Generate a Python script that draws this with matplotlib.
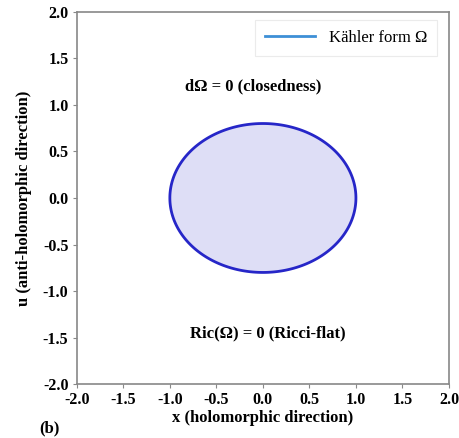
import numpy as np
import matplotlib.pyplot as plt
from matplotlib.lines import Line2D

# ellipse parameters (Kähler form boundary)
center = (0.0, 0.0)
semi_axes = (1.0, 0.8)
x_ticks = [-2.0, -1.5, -1.0, -0.5, 0.0, 0.5, 1.0, 1.5, 2.0]
y_ticks = [-2.0, -1.5, -1.0, -0.5, 0.0, 0.5, 1.0, 1.5, 2.0]
annotations = [("dΩ = 0 (closedness)", -0.1, 1.2),
               ("Ric(Ω) = 0 (Ricci-flat)", 0.05, -1.45)]

plt.rcParams['font.family'] = ['Liberation Serif', 'DejaVu Serif']

fig = plt.figure(figsize=(4.6, 4.38), dpi=100)
ax = fig.add_axes([0.167, 0.123, 0.809, 0.850])

t = np.linspace(0, 2 * np.pi, 400)
ex = center[0] + semi_axes[0] * np.cos(t)
ey = center[1] + semi_axes[1] * np.sin(t)
ax.fill(ex, ey, color='#dedef6', zorder=1)
ax.fill(ex, ey, facecolor='none', edgecolor='#2626c8', lw=2, zorder=2)

for txt, tx, ty in annotations:
    ax.text(tx, ty, txt, ha='center', va='center', fontsize=12, fontweight='bold')

handle = Line2D([], [], color='#3d8fd6', lw=2)
leg = ax.legend([handle], ['Kähler form Ω'], loc='upper right', fontsize=12,
                frameon=True, fancybox=False, borderpad=0.6, handlelength=3.0,
                bbox_to_anchor=(0.99, 1.0))
leg.get_frame().set_edgecolor('#e6e6e6')
leg.get_frame().set_linewidth(0.8)

ax.set_xlim(-2, 2)
ax.set_ylim(-2, 2)
ax.set_xticks(x_ticks)
ax.set_yticks(y_ticks)
ax.set_xticklabels([f"{v:.1f}" for v in x_ticks], fontweight='bold', fontsize=11.5)
ax.set_yticklabels([f"{v:.1f}" for v in y_ticks], fontweight='bold', fontsize=11.5)
ax.tick_params(direction='out', length=3, color='#888888', pad=3)
for s in ax.spines.values():
    s.set_color('#888888')
    s.set_linewidth(1.2)

ax.set_xlabel('x (holomorphic direction)', fontweight='bold', fontsize=12, labelpad=1)
ax.set_ylabel('u (anti-holomorphic direction)', fontweight='bold', fontsize=12, labelpad=8)
fig.text(0.085, 0.012, '(b)', fontweight='bold', fontsize=12)

plt.savefig('out.png', dpi=100)
